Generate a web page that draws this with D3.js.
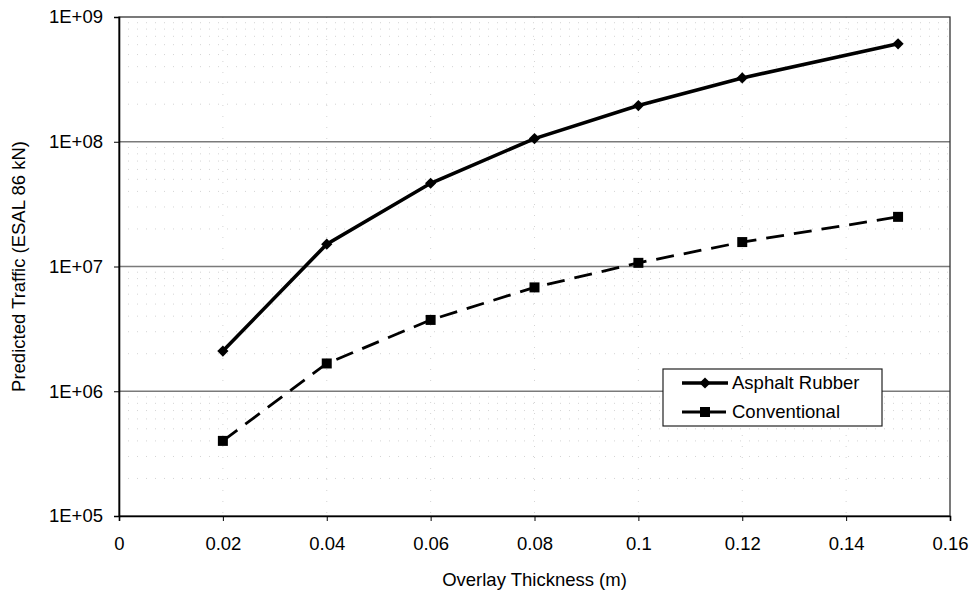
<!DOCTYPE html>
<html>
<head>
<meta charset="utf-8">
<script src="https://cdn.jsdelivr.net/npm/d3@7"></script>
<style>
  body { margin: 0; background: #fff; }
  text { font-family: "Liberation Sans", Arial, sans-serif; fill: #000; }
</style>
</head>
<body>
<div id="chart"></div>
<script>
var width = 971,
  height = 592;

// data
var thickness = [0.02, 0.04, 0.06, 0.08, 0.1, 0.12, 0.15];
var asphaltRubber = [2.1e6, 1.51e7, 4.65e7, 1.06e8, 1.95e8, 3.25e8, 6.1e8];
var conventional = [4.0e5, 1.67e6, 3.73e6, 6.8e6, 1.07e7, 1.57e7, 2.5e7];

var xTicks = [0, 0.02, 0.04, 0.06, 0.08, 0.1, 0.12, 0.14, 0.16];
var yTicks = [1e5, 1e6, 1e7, 1e8, 1e9];
var yTickLabels = ['1E+05', '1E+06', '1E+07', '1E+08', '1E+09'];

var margin = { left: 119, top: 17, right: 21, bottom: 76 };
var plotW = width - margin.left - margin.right,
  plotH = height - margin.top - margin.bottom;

var svg = d3.select('#chart')
  .append('svg')
  .attr('width', width)
  .attr('height', height);

var x = d3.scaleLinear().domain([0, 0.16]).range([0, plotW]);
var y = d3.scaleLog().domain([1e5, 1e9]).range([plotH, 0]);

var g = svg.append('g')
  .attr('transform', 'translate(' + margin.left + ',' + margin.top + ')');

// faint minor gridlines (dotted in the scan)
var minor = [];
for (var e = 5; e < 9; e++) {
  for (var m = 2; m <= 9; m++) minor.push(m * Math.pow(10, e));
}
g.append('g')
  .selectAll('line')
  .data(minor)
  .join('line')
  .attr('x1', 0)
  .attr('x2', plotW)
  .attr('y1', d => y(d))
  .attr('y2', d => y(d))
  .attr('stroke', '#d4d4d4')
  .attr('stroke-width', 1)
  .attr('stroke-dasharray', '1,8');

g.append('g')
  .selectAll('line')
  .data(xTicks.slice(1, -1))
  .join('line')
  .attr('x1', d => x(d))
  .attr('x2', d => x(d))
  .attr('y1', 0)
  .attr('y2', plotH)
  .attr('stroke', '#d4d4d4')
  .attr('stroke-width', 1)
  .attr('stroke-dasharray', '1,10');

// major gridlines
g.append('g')
  .selectAll('line')
  .data(yTicks.slice(1, -1))
  .join('line')
  .attr('x1', 0)
  .attr('x2', plotW)
  .attr('y1', d => y(d))
  .attr('y2', d => y(d))
  .attr('stroke', '#7a7a7a')
  .attr('stroke-width', 1.3);

// plot frame
g.append('rect')
  .attr('x', 0)
  .attr('y', 0)
  .attr('width', plotW)
  .attr('height', plotH)
  .attr('fill', 'none')
  .attr('stroke', '#333')
  .attr('stroke-width', 1.3);

// axes
var xAxis = d3.axisBottom(x)
  .tickValues(xTicks)
  .tickSize(5)
  .tickPadding(16)
  .tickFormat(d => d3.format('')(+d.toFixed(2)));

var yAxis = d3.axisLeft(y)
  .tickValues(yTicks)
  .tickSize(5)
  .tickPadding(11)
  .tickFormat((d, i) => yTickLabels[i]);

g.append('g')
  .attr('transform', 'translate(0,' + plotH + ')')
  .call(xAxis)
  .call(a => a.select('.domain').attr('stroke', '#000').attr('stroke-width', 1.6))
  .call(a => a.selectAll('.tick line').attr('stroke', '#000'))
  .call(a => a.selectAll('text').attr('font-size', '18.5px').attr('font-family', '"Liberation Sans", Arial, sans-serif'));

g.append('g')
  .call(yAxis)
  .call(a => a.select('.domain').attr('stroke', '#000').attr('stroke-width', 1.6))
  .call(a => a.selectAll('.tick line').attr('stroke', '#000'))
  .call(a => a.selectAll('text').attr('font-size', '18.5px').attr('font-family', '"Liberation Sans", Arial, sans-serif'));

// axis titles
svg.append('text')
  .attr('x', margin.left + plotW / 2)
  .attr('y', 586)
  .attr('text-anchor', 'middle')
  .attr('font-size', '18.5px')
  .text('Overlay Thickness (m)');

svg.append('text')
  .attr('transform', 'translate(25,' + (margin.top + plotH / 2) + ') rotate(-90)')
  .attr('text-anchor', 'middle')
  .attr('font-size', '18.5px')
  .text('Predicted Traffic (ESAL 86 kN)');

// series
var line = d3.line()
  .x(d => x(d[0]))
  .y(d => y(d[1]));

var arData = thickness.map((t, i) => [t, asphaltRubber[i]]);
var convData = thickness.map((t, i) => [t, conventional[i]]);

g.append('path')
  .datum(convData)
  .attr('d', line)
  .attr('fill', 'none')
  .attr('stroke', '#000')
  .attr('stroke-width', 2.8)
  .attr('stroke-dasharray', '18,10');

g.append('path')
  .datum(arData)
  .attr('d', line)
  .attr('fill', 'none')
  .attr('stroke', '#000')
  .attr('stroke-width', 3.6);

var diamond = d3.symbol().type(d3.symbolDiamond2).size(80);
var square = d3.symbol().type(d3.symbolSquare).size(100);

g.append('g')
  .selectAll('path')
  .data(arData)
  .join('path')
  .attr('d', diamond)
  .attr('transform', d => 'translate(' + x(d[0]) + ',' + y(d[1]) + ')')
  .attr('fill', '#000');

g.append('g')
  .selectAll('path')
  .data(convData)
  .join('path')
  .attr('d', square)
  .attr('transform', d => 'translate(' + x(d[0]) + ',' + y(d[1]) + ')')
  .attr('fill', '#000');

// legend
var legend = svg.append('g');
legend.append('rect')
  .attr('x', 663)
  .attr('y', 369)
  .attr('width', 219)
  .attr('height', 57)
  .attr('fill', '#fff')
  .attr('stroke', '#222')
  .attr('stroke-width', 1.2);

var keys = [
  { name: 'Asphalt Rubber', dash: null, w: 3.4, sym: diamond, y: 383 },
  { name: 'Conventional', dash: '18,8', w: 2.8, sym: square, y: 412 }
];

keys.forEach(function(k) {
  legend.append('line')
    .attr('x1', 682)
    .attr('x2', 728)
    .attr('y1', k.y)
    .attr('y2', k.y)
    .attr('stroke', '#000')
    .attr('stroke-width', k.w)
    .attr('stroke-dasharray', k.dash);
  legend.append('path')
    .attr('d', k.sym)
    .attr('transform', 'translate(705,' + k.y + ')')
    .attr('fill', '#000');
  legend.append('text')
    .attr('x', 732)
    .attr('y', k.y)
    .attr('dy', '0.35em')
    .attr('font-size', '18.5px')
    .text(k.name);
});
</script>
</body>
</html>
